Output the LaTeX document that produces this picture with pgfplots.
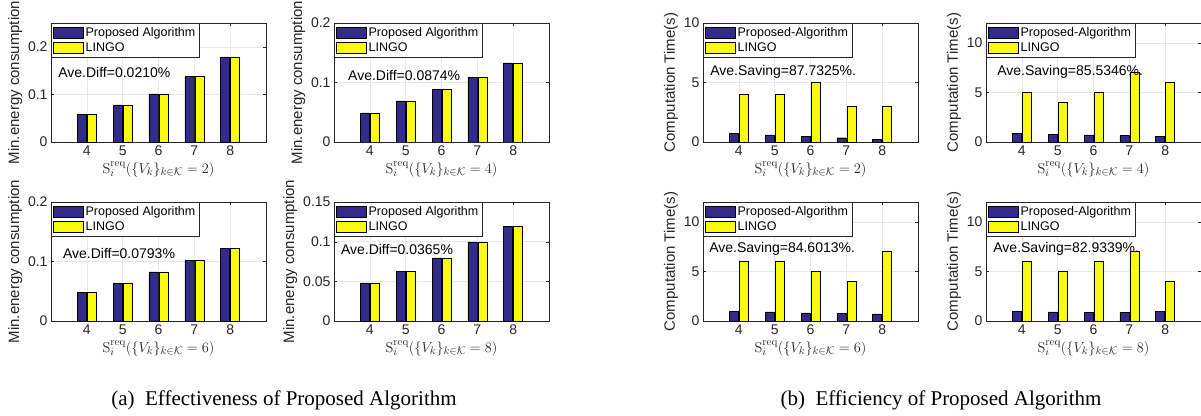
\documentclass[border=0pt]{standalone}
\usepackage[no-math]{fontspec}
\setmainfont{Liberation Sans}
\newfontfamily\seriffont{Liberation Serif}
\usepackage{pgfplots}
\pgfplotsset{compat=1.18}
\definecolor{pblue}{RGB}{50,43,135}
\definecolor{pyellow}{RGB}{249,251,14}
\definecolor{axgray}{RGB}{38,38,38}
\tikzset{ave/.style={anchor=west, inner sep=0pt, font=\fontsize{14}{15}\selectfont, text=black}}
\pgfplotsset{
  mybar/.style={
    scale only axis, width=215pt, height=119pt,
    anchor=north west,
    ybar=1pt, bar width=9pt,
    xmin=3, xmax=9, xtick={4,5,6,7,8},
    ymin=0,
    tick align=inside, major tick length=3pt,
    xtick pos=both, ytick pos=both,
    grid=major, major grid style={gray!18},
    axis line style={axgray}, tick style={axgray},
    /pgf/number format/assume math mode=true,
    ticklabel style={font=\fontsize{14}{15}\selectfont, text=axgray},
    yticklabel style={/pgf/number format/fixed, /pgf/number format/precision=2},
    ylabel style={font=\fontsize{15}{16}\selectfont, text=axgray, yshift=-1pt},
    xlabel style={font=\fontsize{15}{16}\selectfont, text=axgray, yshift=1pt},
    legend style={at={(0,1)}, anchor=north west, draw=axgray, font=\fontsize{12.5}{13}\selectfont,
      inner xsep=2pt, inner ysep=2pt, row sep=1pt, cells={anchor=west}},
    legend cell align=left,
    legend image code/.code={\draw[##1, draw=black] (0pt,-5.5pt) rectangle (30pt,5.5pt);},
    enlarge y limits=false,
  },
  blueb/.style={fill=pblue, draw=black},
  yelb/.style={fill=pyellow, draw=black},
}
\newcommand{\xl}[1]{$\mathrm{S}_i^{\mathrm{req}}(\{V_k\}_{k\in\mathcal{K}}=#1)$}
\begin{document}
\begin{tikzpicture}
\useasboundingbox (0pt,0pt) rectangle (1201pt,-415pt);
% ---------- (a) ----------
\begin{axis}[mybar, at={(51pt,-23pt)}, ymax=0.25, ytick={0,0.1,0.2},
  ylabel={Min.energy consumption}, xlabel={\xl{2}}]
\addplot[blueb] coordinates {(4,0.058) (5,0.078) (6,0.101) (7,0.138) (8,0.179)};
\addplot[yelb] coordinates {(4,0.058) (5,0.078) (6,0.101) (7,0.138) (8,0.179)};
\legend{Proposed Algorithm, LINGO}
\node[ave] at (axis cs:3.2,0.145) {Ave.Diff=0.0210\%};
\end{axis}
\begin{axis}[mybar, at={(334pt,-23pt)}, ymax=0.2, ytick={0,0.1,0.2},
  ylabel={Min.energy consumption}, xlabel={\xl{4}}]
\addplot[blueb] coordinates {(4,0.049) (5,0.069) (6,0.089) (7,0.109) (8,0.133)};
\addplot[yelb] coordinates {(4,0.049) (5,0.069) (6,0.089) (7,0.109) (8,0.133)};
\legend{Proposed Algorithm, LINGO}
\node[ave] at (axis cs:3.39,0.111) {Ave.Diff=0.0874\%};
\end{axis}
\begin{axis}[mybar, at={(51pt,-202pt)}, ymax=0.2, ytick={0,0.1,0.2},
  ylabel={Min.energy consumption}, xlabel={\xl{6}}]
\addplot[blueb] coordinates {(4,0.048) (5,0.063) (6,0.0825) (7,0.102) (8,0.122)};
\addplot[yelb] coordinates {(4,0.048) (5,0.063) (6,0.0825) (7,0.102) (8,0.122)};
\legend{Proposed Algorithm, LINGO}
\node[ave] at (axis cs:3.33,0.113) {Ave.Diff=0.0793\%};
\end{axis}
\begin{axis}[mybar, at={(334pt,-202pt)}, ymax=0.15, ytick={0,0.05,0.1,0.15},
  ylabel={Min.energy consumption}, xlabel={\xl{8}}]
\addplot[blueb] coordinates {(4,0.048) (5,0.0625) (6,0.0796) (7,0.0996) (8,0.119)};
\addplot[yelb] coordinates {(4,0.048) (5,0.0625) (6,0.0796) (7,0.0996) (8,0.119)};
\legend{Proposed Algorithm, LINGO}
\node[ave] at (axis cs:3.19,0.09) {Ave.Diff=0.0365\%};
\end{axis}
% ---------- (b) ----------
\begin{axis}[mybar, at={(703pt,-23pt)}, ymax=10, ytick={0,5,10},
  ylabel={Computation Time(s)}, xlabel={\xl{2}}]
\addplot[blueb] coordinates {(4,0.75) (5,0.59) (6,0.47) (7,0.36) (8,0.22)};
\addplot[yelb] coordinates {(4,4) (5,4) (6,5) (7,3) (8,3)};
\legend{Proposed-Algorithm, LINGO}
\node[ave] at (axis cs:3.2,5.9) {Ave.Saving=87.7325\%.};
\end{axis}
\begin{axis}[mybar, at={(986pt,-23pt)}, ymax=12, ytick={0,5,10},
  ylabel={Computation Time(s)}, xlabel={\xl{4}}]
\addplot[blueb] coordinates {(4,0.85) (5,0.78) (6,0.71) (7,0.68) (8,0.58)};
\addplot[yelb] coordinates {(4,5) (5,4) (6,5) (7,7) (8,6)};
\legend{Proposed-Algorithm, LINGO}
\node[ave] at (axis cs:3.31,7.06) {Ave.Saving=85.5346\%.};
\end{axis}
\begin{axis}[mybar, at={(703pt,-202pt)}, ymax=12, ytick={0,5,10},
  ylabel={Computation Time(s)}, xlabel={\xl{6}}]
\addplot[blueb] coordinates {(4,0.97) (5,0.93) (6,0.83) (7,0.77) (8,0.73)};
\addplot[yelb] coordinates {(4,6) (5,6) (6,5) (7,4) (8,7)};
\legend{Proposed-Algorithm, LINGO}
\node[ave] at (axis cs:3.17,7.3) {Ave.Saving=84.6013\%.};
\end{axis}
\begin{axis}[mybar, at={(986pt,-202pt)}, ymax=12, ytick={0,5,10},
  ylabel={Computation Time(s)}, xlabel={\xl{8}}]
\addplot[blueb] coordinates {(4,0.97) (5,0.93) (6,0.9) (7,0.87) (8,0.97)};
\addplot[yelb] coordinates {(4,6) (5,5) (6,6) (7,7) (8,4)};
\legend{Proposed-Algorithm, LINGO}
\node[ave] at (axis cs:3.2,7.3) {Ave.Saving=82.9339\%.};
\end{axis}
% captions
\node[font=\seriffont\fontsize{21}{22}\selectfont, anchor=base] at (284pt,-405pt) {(a)\ \ Effectiveness of Proposed Algorithm};
\node[font=\seriffont\fontsize{21}{22}\selectfont, anchor=base] at (941pt,-405pt) {(b)\ \ Efficiency of Proposed Algorithm};
\end{tikzpicture}
\end{document}
